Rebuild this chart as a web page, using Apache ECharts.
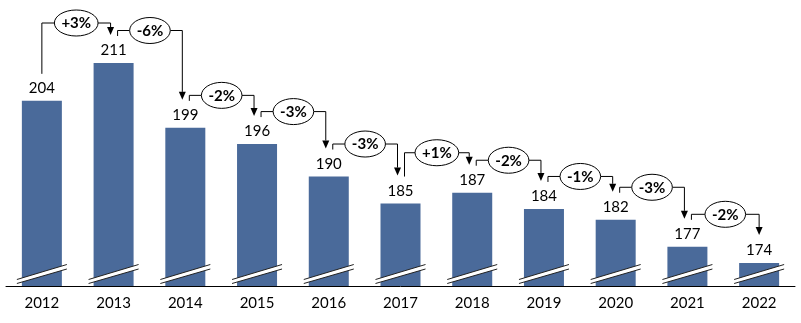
<!DOCTYPE html>
<html>
<head>
<meta charset="utf-8">
<script src="https://cdn.jsdelivr.net/npm/echarts@6/dist/echarts.min.js"></script>
<style>
html,body{margin:0;padding:0;background:#fff;}
#chart{width:801px;height:323px;}
</style>
</head>
<body>
<div id="chart"></div>
<script>
const years = ['2012','2013','2014','2015','2016','2017','2018','2019','2020','2021','2022'];
const values = [204, 211, 199, 196, 190, 185, 187, 184, 182, 177, 174];
const changes = ['+3%','-6%','-2%','-3%','-3%','+1%','-2%','-1%','-3%','-2%'];

const BAR_COLOR = '#4a6a9a';
const FONT = 'Lato, "Open Sans", sans-serif';
const Y_MIN = 169.75;

const measureCtx = document.createElement('canvas').getContext('2d');
function textWidth(t, font) { measureCtx.font = font; return measureCtx.measureText(t).width; }

const pairData = changes.map((c, i) => [i, values[i], values[i + 1]]);
const breakData = values.map((v, i) => [i, v]);

const chart = echarts.init(document.getElementById('chart'), null, {renderer: 'canvas'});
chart.setOption({
  animation: false,
  backgroundColor: '#fff',
  grid: {left: 6, right: 6, top: 63, bottom: 37},
  xAxis: {
    type: 'category',
    data: years,
    axisLine: {lineStyle: {color: '#000', width: 1}},
    axisTick: {show: false},
    axisLabel: {color: '#000', fontFamily: FONT, fontSize: 15, margin: 10}
  },
  yAxis: {
    type: 'value', min: Y_MIN, max: 211, show: false,
    splitLine: {show: false}
  },
  series: [
    {
      type: 'bar',
      data: values,
      barWidth: 40,
      itemStyle: {color: BAR_COLOR},
      label: {show: true, position: 'top', distance: 5, color: '#000', fontFamily: FONT, fontSize: 15},
      z: 2
    },
    {
      type: 'custom',
      data: breakData,
      clip: false,
      z: 3,
      encode: {x: 0, y: 1},
      renderItem: function (params, api) {
        const c = api.coord([api.value(0), api.value(1)])[0];
        const y0 = params.coordSys.y + params.coordSys.height;
        const w = 25;
        return {
          type: 'group',
          children: [
            {type: 'polygon', shape: {points: [[c - w, y0 - 2.5], [c + w, y0 - 17], [c + w, y0 - 21.5], [c - w, y0 - 6.5]]},
             style: {fill: '#fff', stroke: null}},
            {type: 'line', shape: {x1: c - w, y1: y0 - 2.5, x2: c + w, y2: y0 - 17}, style: {stroke: '#222', lineWidth: 1}},
            {type: 'line', shape: {x1: c - w, y1: y0 - 6.5, x2: c + w, y2: y0 - 21.5}, style: {stroke: '#222', lineWidth: 1}}
          ]
        };
      }
    },
    {
      type: 'custom',
      data: pairData,
      clip: false,
      z: 4,
      encode: {x: 0, y: 1},
      renderItem: function (params, api) {
        const i = api.value(0);
        const n = values.length;
        const p1 = api.coord([i, api.value(1)]);
        const p2 = api.coord([i + 1, api.value(2)]);
        const xs = p1[0] + (i === 0 ? 0 : 4);
        const xe = p2[0] + (i + 1 === n - 1 ? 0 : -3);
        const ys = p1[1] - 27;
        const ye = p2[1] - 28;
        const level = Math.min(p1[1] - 32.5, p2[1] - 40);
        const txt = changes[params.dataIndex];
        const font = 'bold 15px ' + FONT;
        const rx = textWidth(txt, font) / 2 + 7;
        const ry = 13;
        const cx = (xs + xe) / 2;
        const ah = 8, aw = 3.5;
        const ls = {stroke: '#000', lineWidth: 1, fill: null};
        return {
          type: 'group',
          children: [
            {type: 'polyline', shape: {points: [[xs, ys], [xs, level], [cx - rx, level]]}, style: ls},
            {type: 'polyline', shape: {points: [[cx + rx, level], [xe, level], [xe, ye - ah]]}, style: ls},
            {type: 'polygon', shape: {points: [[xe - aw, ye - ah], [xe + aw, ye - ah], [xe, ye]]}, style: {fill: '#000'}},
            {type: 'ellipse', shape: {cx: cx, cy: level, rx: rx, ry: ry}, style: {fill: '#fff', stroke: '#000', lineWidth: 1}},
            {type: 'text', style: {text: txt, x: cx, y: level + 0.5, align: 'center', verticalAlign: 'middle',
              font: font, fill: '#000'}}
          ]
        };
      }
    }
  ]
});
</script>
</body>
</html>
